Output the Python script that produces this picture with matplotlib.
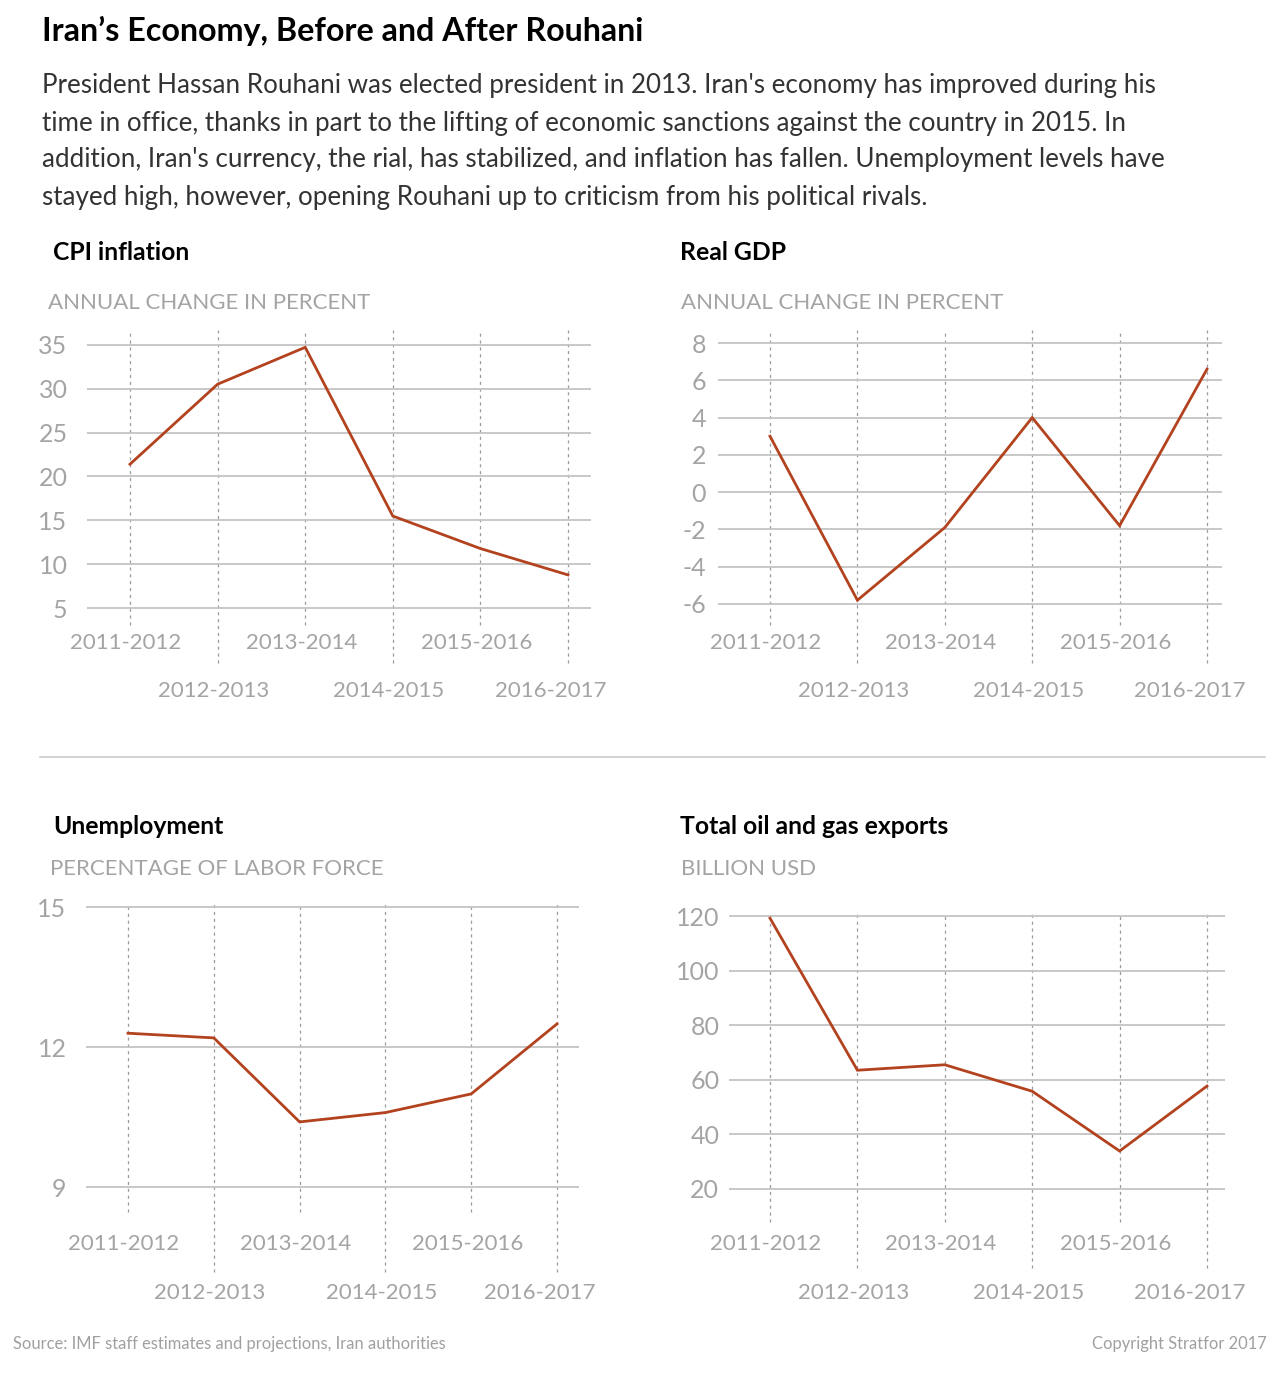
import matplotlib
matplotlib.use('Agg')
import matplotlib.pyplot as plt
from matplotlib.lines import Line2D

plt.rcParams['font.family'] = ['Lato', 'DejaVu Sans']

# data
periods = ['2011-2012', '2012-2013', '2013-2014', '2014-2015', '2015-2016', '2016-2017']
cpi = [21.4, 30.5, 34.7, 15.5, 11.8, 8.8]
gdp = [3.0, -5.8, -1.9, 4.0, -1.8, 6.6]
unemp = [12.3, 12.2, 10.4, 10.6, 11.0, 12.5]
oil = [119.2, 63.5, 65.5, 55.8, 33.9, 57.7]

cpi_ticks = [5, 10, 15, 20, 25, 30, 35]
gdp_ticks = [-6, -4, -2, 0, 2, 4, 6, 8]
unemp_ticks = [9, 12, 15]
oil_ticks = [20, 40, 60, 80, 100, 120]

title = 'Iran\u2019s Economy, Before and After Rouhani'
intro = ["President Hassan Rouhani was elected president in 2013. Iran's economy has improved during his",
         "time in office, thanks in part to the lifting of economic sanctions against the country in 2015. In",
         "addition, Iran's currency, the rial, has stabilized, and inflation has fallen. Unemployment levels have",
         "stayed high, however, opening Rouhani up to criticism from his political rivals."]

RUST = '#B3421E'
GRID = '#c4c4c4'
DASH = '#9c9c9c'
LGRAY = '#a4a4a4'
TW = 'normal'

W, H = 1280, 1374
fig = plt.figure(figsize=(W / 100, H / 100), dpi=100)


def ftext(x, y, s, **kw):
    # place text using pixel coords of the reference
    return fig.text(x / W, 1 - y / H, s, **kw)


def panel(box, xpix, ylim, ticks, vals, long_end, lab_y, pad):
    l, t, r, b = box
    ax = fig.add_axes([l / W, 1 - b / H, (r - l) / W, (b - t) / H])
    unit = (xpix[1] - xpix[0]) / 5.0
    ax.set_xlim(-(xpix[0] - l) / unit, 5 + (r - xpix[1]) / unit)
    ax.set_ylim(ylim)
    for v in ticks:
        ax.axhline(v, color=GRID, lw=1.3, zorder=1)
    ax.set_yticks(ticks)
    ax.set_yticklabels([str(v) for v in ticks])
    ax.tick_params(axis='y', length=0, pad=pad, labelsize=18, labelcolor=LGRAY)
    for lab in ax.get_yticklabels():
        lab.set_fontweight(TW)
    ax.set_xticks([])
    for s in ax.spines.values():
        s.set_visible(False)
    h = float(b - t)
    tr = ax.get_xaxis_transform()
    for i, p in enumerate(periods):
        ybot = 0 if i % 2 == 0 else -(long_end - b) / h
        ax.plot([i, i], [ybot, 1], transform=tr, color=DASH, lw=0.9,
                ls=(0, (2.5, 3)), clip_on=False, zorder=0)
        ly = -(lab_y[i % 2] - b) / h
        dx = -17 if i == 5 else -4
        ax.annotate(p, xy=(i, ly), xycoords=tr, xytext=(dx, 0),
                    textcoords='offset pixels', ha='center', va='center',
                    fontsize=16, color=LGRAY, fontweight=TW,
                    annotation_clip=False)
    ax.plot(range(len(vals)), vals, color=RUST, lw=2, zorder=3,
            solid_joinstyle='miter', clip_on=False)
    return ax


ftext(42, 31, title, fontsize=23.2, fontweight='bold', va='center', color='black')
for k, line in enumerate(intro):
    ftext(42, 86 + 37 * k, line, fontsize=18.7, va='center', color='#333333')

# panel headings
ftext(53, 253, 'CPI inflation', fontsize=17.8, fontweight='bold', va='center')
ftext(48, 303, 'ANNUAL CHANGE IN PERCENT', fontsize=16, va='center', color=LGRAY, fontweight=TW)
ftext(680, 253, 'Real GDP', fontsize=17.8, fontweight='bold', va='center')
ftext(681, 303, 'ANNUAL CHANGE IN PERCENT', fontsize=16, va='center', color=LGRAY, fontweight=TW)
ftext(53, 826, 'Unemployment', fontsize=17.8, fontweight='bold', va='center')
ftext(50, 869, 'PERCENTAGE OF LABOR FORCE', fontsize=16, va='center', color=LGRAY, fontweight=TW)
ftext(680, 826, 'Total oil and gas exports', fontsize=17.8, fontweight='bold', va='center')
ftext(681, 869, 'BILLION USD', fontsize=16, va='center', color=LGRAY, fontweight=TW)

fig.add_artist(Line2D([40 / W, 1265 / W], [1 - 757 / H, 1 - 757 / H], color='#cccccc', lw=1.2))

panel((87, 330, 591, 625), (130, 568), (3.1, 36.67), cpi_ticks, cpi, 663, (643, 691), 14)
panel((718, 330, 1222, 625), (770, 1207), (-7.13, 8.70), gdp_ticks, gdp, 663, (643, 691), 8.5)
panel((86, 903, 579, 1212), (128, 557), (8.47, 15.09), unemp_ticks, unemp, 1272, (1244, 1293), 14)
panel((729, 913, 1225, 1222), (770, 1207), (7.9, 121.1), oil_ticks, oil, 1268, (1244, 1293), 7)

ftext(13, 1344, 'Source: IMF staff estimates and projections, Iran authorities', fontsize=11.9,
      va='center', color='#a0a0a0', fontweight=TW)
ftext(1267, 1344, 'Copyright Stratfor 2017', fontsize=11.9, va='center', ha='right',
      color='#a0a0a0', fontweight=TW)

fig.savefig('out.png', dpi=100, facecolor='white')
